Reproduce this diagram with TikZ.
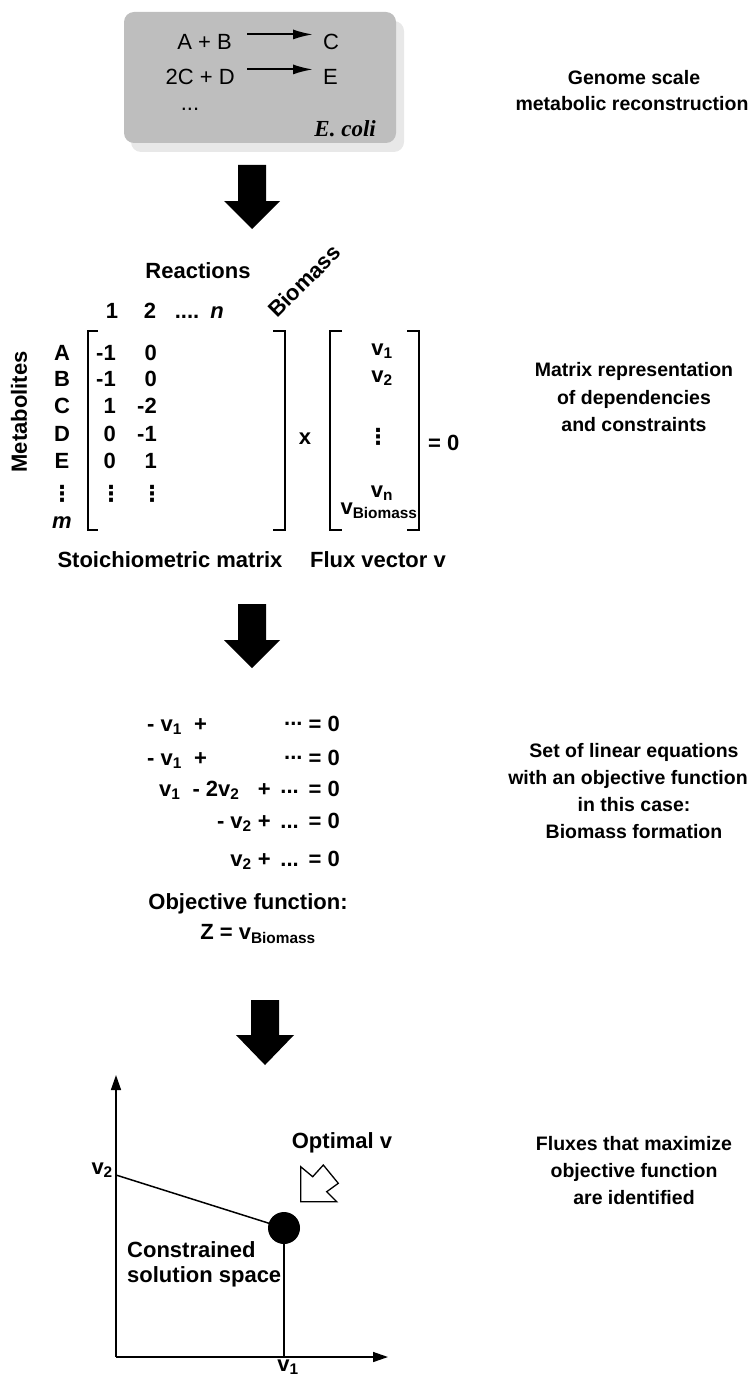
\documentclass[tikz,border=0pt]{standalone}
\usepackage{fontspec}
\setmainfont{Liberation Sans}
\newfontfamily\timesf{Liberation Serif}
\newfontfamily\dejavu{DejaVu Sans}
\usetikzlibrary{arrows.meta,shapes.geometric}
\definecolor{boxgray}{RGB}{190,190,190}
\definecolor{shadowgray}{RGB}{232,232,232}
\newcommand\sbs[1]{\textsubscript{#1}}
\newcommand\vdt{{\dejavu\bfseries ⋮}}
\tikzset{
  txt/.style={font=\fontsize{22}{26}\selectfont\bfseries, inner sep=0pt},
  rtxt/.style={font=\fontsize{19.5}{24}\selectfont\bfseries, inner sep=0pt, anchor=base},
  btxt/.style={font=\fontsize{22}{26}\selectfont, inner sep=0pt},
  bigarrow/.style={fill=black, draw=none},
  line/.style={line width=1.5pt},
  bracket/.style={line width=1.5pt},
  rxnarrow/.style={line width=2pt, -{Latex[length=20pt,width=10pt]}},
}
\begin{document}
\begin{tikzpicture}[x=1pt,y=-1pt]
\useasboundingbox (0,0) rectangle (750,1383);
% --- genome box
\fill[shadowgray, rounded corners=10pt] (131,21) rectangle (404,152);
\fill[boxgray, rounded corners=10pt] (124,12) rectangle (396,143);
\node[btxt, anchor=base east] (ab) at (232,50) {A + B};
\node[btxt, anchor=base west] (c) at (323,50) {C};
\node[btxt, anchor=base east] (cd) at (235,85) {2C + D};
\node[btxt, anchor=base west] (e) at (323,85) {E};
\node[btxt, anchor=base] (dots) at (190,111) {...};
\node[anchor=base east, inner sep=0pt, font=\fontsize{23}{26}\selectfont\timesf\bfseries\itshape] (ecoli) at (376,137) {E. coli};
\draw[rxnarrow] (ab.east) ++(15,-8) coordinate (r1s) -- ++(66,0) coordinate (r1e);
\draw[rxnarrow] (cd.east) ++(12,-8) coordinate (r2s) -- ++(66,0) coordinate (r2e);
\node[rtxt] (t1a) at (634,85) {Genome scale};
\node[rtxt] (t1b) at (632,111) {metabolic reconstruction};
% --- big arrow 1
\fill[bigarrow] (238,165) -- (266,165) -- (266,201) -- (280,201) -- (252,229) -- (224,201) -- (238,201) -- cycle;
% --- matrix
\node[txt, anchor=base] (reac) at (198,278) {Reactions};
\node[txt, anchor=base] (c1) at (112,318) {1};
\node[txt, anchor=base] (c2) at (150,318) {2};
\node[txt, anchor=base] (cdots) at (187,318) {....};
\node[txt, anchor=base] (cn) at (217,318) {\itshape n};
\node[txt, rotate=45] (biom) at (304,281) {Biomass};
\node[txt, rotate=90] (metab) at (19,412) {Metabolites};
\foreach \nm/\lab/\yy in {ra/A/360, rb/B/386, rc/C/413, rd/D/441, re/E/468}{
  \node[txt, anchor=base] (\nm) at (62,\yy) {\lab};
}
\node[txt] (rdots) at (62,494) {\vdt};
\node[txt, anchor=base] (rm) at (62,528) {\itshape m};
% column 1
\foreach \nm/\lab/\yy in {a1/-1/360, b1/-1/386, c1v/1/413, d1/0/441, e1/0/468}{
  \node[txt, anchor=base east] (\nm) at (116,\yy) {\lab};
}
\node[txt] (f1) at (111,494) {\vdt};
% column 2
\foreach \nm/\lab/\yy in {a2/0/360, b2/0/386, c2v/-2/413, d2/-1/441, e2/1/468}{
  \node[txt, anchor=base east] (\nm) at (157,\yy) {\lab};
}
\node[txt] (f2) at (152,494) {\vdt};
% brackets
\draw[bracket] (98,331) -- (88,331) -- (88,530) -- (98,530);
\draw[bracket] (273,331) -- (285,331) -- (285,530) -- (273,530);
\draw[bracket] (342,331) -- (330,331) -- (330,530) -- (342,530);
\draw[bracket] (407,331) -- (419,331) -- (419,530) -- (407,530);
\node[txt, anchor=base] (times) at (305,444) {x};
\node[txt, anchor=base] (v1) at (382,355) {v\sbs{1}};
\node[txt, anchor=base] (v2) at (382,382) {v\sbs{2}};
\node[txt] (vd) at (378,437) {\vdt};
\node[txt, anchor=base] (vn) at (382,497) {v\sbs{n}};
\node[txt, anchor=base] (vb) at (379,514) {v\sbs{Biomass}};
\node[txt, anchor=base west] (eq0) at (428,450) {= 0};
\node[txt, anchor=base] (stoich) at (170,567) {Stoichiometric matrix};
\node[txt, anchor=base] (fluxv) at (378,567) {Flux vector v};
\node[rtxt] (t2a) at (634,376) {Matrix representation};
\node[rtxt] (t2b) at (634,404) {of dependencies};
\node[rtxt] (t2c) at (634,431) {and constraints};
% --- big arrow 2
\fill[bigarrow] (238,604) -- (266,604) -- (266,640) -- (280,640) -- (252,668) -- (224,640) -- (238,640) -- cycle;
% --- equations
\node[txt, anchor=base west] (e1l) at (147,731) {- v\sbs{1}\ \ +};
\node[txt, anchor=base east] (e1r) at (340,731) {\raisebox{0.25em}{...} = 0};
\node[txt, anchor=base west] (e2l) at (147,765) {- v\sbs{1}\ \ +};
\node[txt, anchor=base east] (e2r) at (340,765) {\raisebox{0.25em}{...} = 0};
\node[txt, anchor=base east] (e3) at (340,796) {v\sbs{1}\ \ - 2v\sbs{2}\ \ \ +\ \,\raisebox{0.1em}{...}\ \,= 0};
\node[txt, anchor=base east] (e4) at (340,828) {- v\sbs{2}\ +\ \,...\ \,= 0};
\node[txt, anchor=base east] (e5) at (340,866) {v\sbs{2}\ +\ \,...\ \,= 0};
\node[txt, anchor=base] (obj) at (248,909) {Objective function:};
\node[txt, anchor=base] (zeq) at (258,939) {Z = v\sbs{Biomass}};
\node[rtxt] (t3a) at (634,757) {Set of linear equations};
\node[rtxt] (t3b) at (628,784) {with an objective function};
\node[rtxt] (t3c) at (634,811) {in this case:};
\node[rtxt] (t3d) at (634,838) {Biomass formation};
% --- big arrow 3
\fill[bigarrow] (251,1000) -- (279,1000) -- (279,1035) -- (294,1035) -- (265,1065) -- (236,1035) -- (251,1035) -- cycle;
% --- graph
\coordinate (O) at (116,1357);
\coordinate (ytip) at (116,1075);
\coordinate (xtip) at (388,1357);
\coordinate (yv2) at (116,1175);
\coordinate (xv1) at (284,1357);
\draw[line, -{Triangle[length=15pt,width=10pt]}] (O) -- (ytip);
\draw[line, -{Triangle[length=15pt,width=10pt]}] (O) -- (xtip);
\node[circle, fill=black, minimum size=32pt, inner sep=0pt] (opt) at (284,1228) {};
\draw[line] (yv2) -- (opt.center);
\draw[line] (opt.center) -- (xv1);
\node[txt, anchor=base east] (lv2) at (113,1174) {v\sbs{2}};
\node[txt, anchor=base] (lv1) at (288,1371) {v\sbs{1}};
\node[txt, anchor=base] (optv) at (342,1148) {Optimal v};
\node[txt, anchor=base west] (cons1) at (127,1257) {Constrained};
\node[txt, anchor=base west] (cons2) at (127,1282) {solution space};
\draw[line width=1.3pt, fill=white] (300.7,1201.7) -- (300.7,1166.7) -- (312.7,1176.7) -- (323.3,1165) -- (338.3,1183.3) -- (326.7,1191.7) -- (336.7,1201.7) -- cycle;
\node[rtxt] (t4a) at (634,1150) {Fluxes that maximize};
\node[rtxt] (t4b) at (634,1177) {objective function};
\node[rtxt] (t4c) at (634,1204) {are identified};
\end{tikzpicture}
\end{document}
